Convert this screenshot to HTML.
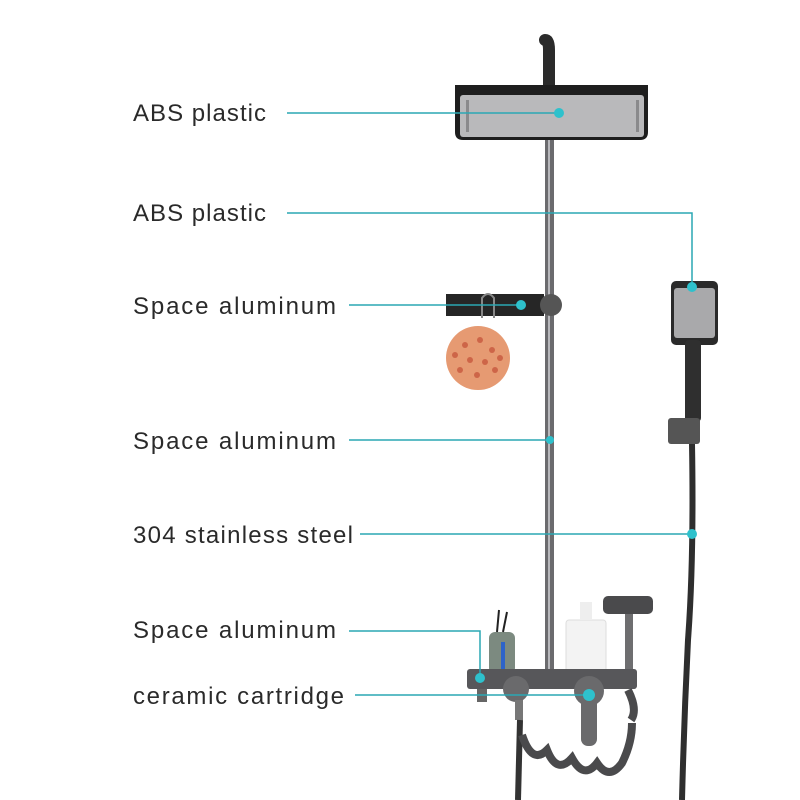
<!DOCTYPE html>
<html><head><style>
html,body{margin:0;padding:0;background:#fff;}
svg{display:block;}
text{font-family:"Liberation Sans",sans-serif;font-size:24px;fill:#2a2a2a;}
</style></head><body>
<svg width="800" height="800" viewBox="0 0 800 800" xmlns="http://www.w3.org/2000/svg">
<rect width="800" height="800" fill="#fff"/>
<path d="M549,85 L549,50 Q549,40 545,40" stroke="#2b2b2b" stroke-width="12" fill="none" stroke-linecap="round"/>
<rect x="545" y="138" width="9" height="535" fill="#6b6b6e"/>
<rect x="548" y="138" width="2" height="535" fill="#b8b8bc"/>
<path d="M455,85 L648,85 L648,132 Q648,140 640,140 L463,140 Q455,140 455,132 Z" fill="#1e1e1e"/>
<rect x="460" y="95" width="184" height="42" rx="3" fill="#b9b9bb"/>
<g fill="#8a8a8c">
<rect x="466" y="100" width="3" height="32"/><rect x="636" y="100" width="3" height="32"/>
</g>
<rect x="446" y="294" width="98" height="22" fill="#262626"/>
<circle cx="551" cy="305" r="11" fill="#555"/>
<path d="M482,318 L482,298 Q488,290 494,298 L494,318" stroke="#888" stroke-width="2" fill="none"/>
<circle cx="478" cy="358" r="32" fill="#e69a72"/>
<g fill="#c8583e" opacity="0.8">
<circle cx="465" cy="345" r="3"/><circle cx="480" cy="340" r="3"/><circle cx="492" cy="350" r="3"/><circle cx="470" cy="360" r="3"/><circle cx="485" cy="362" r="3"/><circle cx="460" cy="370" r="3"/><circle cx="477" cy="375" r="3"/><circle cx="495" cy="370" r="3"/><circle cx="500" cy="358" r="3"/><circle cx="455" cy="355" r="3"/>
</g>
<rect x="671" y="281" width="47" height="64" rx="5" fill="#2a2a2a"/>
<rect x="674" y="288" width="41" height="50" rx="3" fill="#a9a9ab"/>
<rect x="685" y="340" width="16" height="82" rx="4" fill="#2f2f2f"/>
<rect x="668" y="418" width="32" height="26" rx="3" fill="#555"/>
<path d="M692,444 Q694,560 688,640 Q684,720 682,800" stroke="#2e2e2e" stroke-width="6" fill="none"/>
<rect x="489" y="632" width="26" height="42" rx="6" fill="#7c8a80"/>
<rect x="501" y="642" width="4" height="32" fill="#2d63c9"/>
<path d="M497,632 L499,610 M503,632 L507,612" stroke="#222" stroke-width="2"/>
<rect x="566" y="620" width="40" height="52" rx="3" fill="#f3f3f3" stroke="#ddd"/>
<rect x="580" y="602" width="12" height="18" fill="#eee"/>
<rect x="625" y="610" width="8" height="60" fill="#6e6e70"/>
<rect x="603" y="596" width="50" height="18" rx="5" fill="#4a4a4c"/>
<rect x="467" y="669" width="170" height="20" rx="3" fill="#57575a"/>
<rect x="477" y="689" width="10" height="13" fill="#666"/>
<circle cx="516" cy="689" r="13" fill="#6a6a6c"/>
<rect x="515" y="700" width="8" height="20" fill="#777"/>
<circle cx="589" cy="691" r="15" fill="#6a6a6c"/>
<rect x="581" y="696" width="16" height="50" rx="7" fill="#6a6a6c"/>
<path d="M520,720 L518,800" stroke="#333" stroke-width="6" fill="none"/>
<path d="M522,735 q10,30 25,15 q10,25 25,8 q12,22 25,5 q12,18 25,0 q10,-20 10,-40 M628,690 q10,20 3,30" stroke="#4a4a4c" stroke-width="8" fill="none"/>
<g stroke="#2aa7b4" stroke-width="1.5" fill="none">
<path d="M287,113 L560,113"/>
<path d="M287,213 L692,213 L692,287"/>
<path d="M349,305 L521,305"/>
<path d="M349,440 L550,440"/>
<path d="M360,534 L692,534"/>
<path d="M349,631 L480,631 L480,678"/>
<path d="M355,695 L589,695"/>
</g>
<g fill="#2ec1cc">
<circle cx="559" cy="113" r="5"/><circle cx="692" cy="287" r="5"/><circle cx="521" cy="305" r="5"/>
<circle cx="550" cy="440" r="4"/><circle cx="692" cy="534" r="5"/><circle cx="480" cy="678" r="5"/><circle cx="589" cy="695" r="6"/>
</g>
<text x="133" y="121" textLength="133" lengthAdjust="spacing">ABS plastic</text>
<text x="133" y="221" textLength="133" lengthAdjust="spacing">ABS plastic</text>
<text x="133" y="314" textLength="203" lengthAdjust="spacing">Space aluminum</text>
<text x="133" y="449" textLength="203" lengthAdjust="spacing">Space aluminum</text>
<text x="133" y="543" textLength="220" lengthAdjust="spacing">304 stainless steel</text>
<text x="133" y="638" textLength="203" lengthAdjust="spacing">Space aluminum</text>
<text x="133" y="704" textLength="211" lengthAdjust="spacing">ceramic cartridge</text>
</svg>
</body></html>
